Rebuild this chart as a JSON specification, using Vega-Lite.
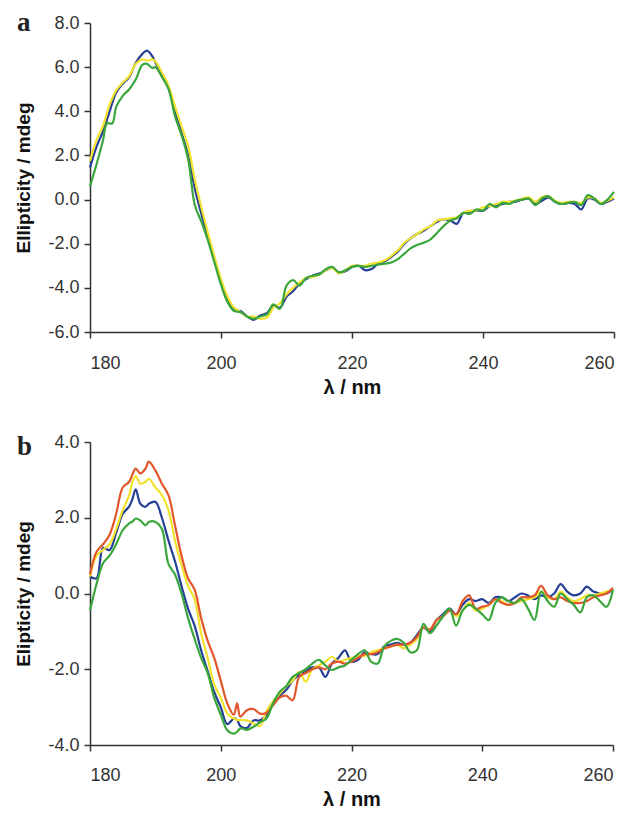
{
"$schema": "https://vega.github.io/schema/vega-lite/v6.json",
"background": "white",
"padding": {"left": 14, "top": 9, "right": 10, "bottom": 2},
"spacing": 36,
"config": {
  "locale": {"number": {"decimal": ".", "thousands": ",", "grouping": [3], "currency": ["$", ""], "minus": "-"}},
  "view": {"stroke": null},
  "font": "Liberation Sans",
  "axis": {"grid": false, "domainColor": "#333", "domainWidth": 1.5, "tickColor": "#333", "tickWidth": 1.5, "tickSize": 6,
           "labelFont": "Liberation Sans", "labelFontSize": 18, "labelColor": "#333", "titleFont": "Liberation Sans", "titleFontSize": 19, "titleFontWeight": "bold", "titleColor": "#111"}
},
"datasets": {
"a": [
{"nm":180,"s":"blue","v":1.45},{"nm":181,"s":"blue","v":2.4},{"nm":182,"s":"blue","v":3.1},{"nm":183,"s":"blue","v":4.0},{"nm":184,"s":"blue","v":4.85},{"nm":185,"s":"blue","v":5.25},{"nm":186,"s":"blue","v":5.55},{"nm":187,"s":"blue","v":6.2},{"nm":188,"s":"blue","v":6.6},{"nm":188.7,"s":"blue","v":6.75},{"nm":189.5,"s":"blue","v":6.5},{"nm":190,"s":"blue","v":6.2},{"nm":191,"s":"blue","v":5.7},{"nm":192,"s":"blue","v":5.05},{"nm":193,"s":"blue","v":3.95},{"nm":194,"s":"blue","v":3.0},{"nm":195,"s":"blue","v":2.0},{"nm":196,"s":"blue","v":0.5},{"nm":197,"s":"blue","v":-0.65},{"nm":198,"s":"blue","v":-1.7},{"nm":199,"s":"blue","v":-2.75},{"nm":200,"s":"blue","v":-3.7},{"nm":201,"s":"blue","v":-4.55},{"nm":202,"s":"blue","v":-5.0},{"nm":203,"s":"blue","v":-5.05},{"nm":204,"s":"blue","v":-5.3},{"nm":205,"s":"blue","v":-5.45},{"nm":206,"s":"blue","v":-5.25},{"nm":207,"s":"blue","v":-5.15},{"nm":208,"s":"blue","v":-4.8},{"nm":209,"s":"blue","v":-4.9},{"nm":210,"s":"blue","v":-4.4},{"nm":211,"s":"blue","v":-4.15},{"nm":212,"s":"blue","v":-3.8},{"nm":213,"s":"blue","v":-3.6},{"nm":214,"s":"blue","v":-3.45},{"nm":215,"s":"blue","v":-3.35},{"nm":216,"s":"blue","v":-3.2},{"nm":217,"s":"blue","v":-3.1},{"nm":218,"s":"blue","v":-3.3},{"nm":219,"s":"blue","v":-3.25},{"nm":220,"s":"blue","v":-3.05},{"nm":221,"s":"blue","v":-3.0},{"nm":222,"s":"blue","v":-3.2},{"nm":223,"s":"blue","v":-3.15},{"nm":224,"s":"blue","v":-2.9},{"nm":225,"s":"blue","v":-2.8},{"nm":226,"s":"blue","v":-2.6},{"nm":227,"s":"blue","v":-2.35},{"nm":228,"s":"blue","v":-2.0},{"nm":229,"s":"blue","v":-1.75},{"nm":230,"s":"blue","v":-1.55},{"nm":231,"s":"blue","v":-1.4},{"nm":232,"s":"blue","v":-1.2},{"nm":233,"s":"blue","v":-1.0},{"nm":234,"s":"blue","v":-0.9},{"nm":235,"s":"blue","v":-0.95},{"nm":236,"s":"blue","v":-1.1},{"nm":237,"s":"blue","v":-0.6},{"nm":238,"s":"blue","v":-0.55},{"nm":239,"s":"blue","v":-0.5},{"nm":240,"s":"blue","v":-0.5},{"nm":241,"s":"blue","v":-0.3},{"nm":242,"s":"blue","v":-0.25},{"nm":243,"s":"blue","v":-0.2},{"nm":244,"s":"blue","v":-0.1},{"nm":245,"s":"blue","v":-0.1},{"nm":246,"s":"blue","v":0.0},{"nm":247,"s":"blue","v":0.05},{"nm":248,"s":"blue","v":-0.2},{"nm":249,"s":"blue","v":-0.05},{"nm":250,"s":"blue","v":0.1},{"nm":251,"s":"blue","v":-0.1},{"nm":252,"s":"blue","v":-0.2},{"nm":253,"s":"blue","v":-0.15},{"nm":254,"s":"blue","v":-0.2},{"nm":255,"s":"blue","v":-0.45},{"nm":256,"s":"blue","v":0.05},{"nm":257,"s":"blue","v":0.0},{"nm":258,"s":"blue","v":-0.2},{"nm":259,"s":"blue","v":-0.1},{"nm":260,"s":"blue","v":0.05},
{"nm":180,"s":"yellow","v":1.75},{"nm":181,"s":"yellow","v":2.7},{"nm":182,"s":"yellow","v":3.35},{"nm":183,"s":"yellow","v":4.3},{"nm":184,"s":"yellow","v":4.95},{"nm":185,"s":"yellow","v":5.3},{"nm":186,"s":"yellow","v":5.6},{"nm":187,"s":"yellow","v":6.15},{"nm":188,"s":"yellow","v":6.35},{"nm":188.7,"s":"yellow","v":6.3},{"nm":189.5,"s":"yellow","v":6.35},{"nm":190,"s":"yellow","v":6.25},{"nm":191,"s":"yellow","v":5.75},{"nm":192,"s":"yellow","v":5.15},{"nm":193,"s":"yellow","v":4.2},{"nm":194,"s":"yellow","v":3.3},{"nm":195,"s":"yellow","v":2.4},{"nm":196,"s":"yellow","v":0.9},{"nm":197,"s":"yellow","v":-0.35},{"nm":198,"s":"yellow","v":-1.5},{"nm":199,"s":"yellow","v":-2.6},{"nm":200,"s":"yellow","v":-3.6},{"nm":201,"s":"yellow","v":-4.4},{"nm":202,"s":"yellow","v":-4.9},{"nm":203,"s":"yellow","v":-5.1},{"nm":204,"s":"yellow","v":-5.3},{"nm":205,"s":"yellow","v":-5.3},{"nm":206,"s":"yellow","v":-5.4},{"nm":207,"s":"yellow","v":-5.35},{"nm":208,"s":"yellow","v":-4.9},{"nm":209,"s":"yellow","v":-4.7},{"nm":210,"s":"yellow","v":-4.3},{"nm":211,"s":"yellow","v":-4.0},{"nm":212,"s":"yellow","v":-3.75},{"nm":213,"s":"yellow","v":-3.55},{"nm":214,"s":"yellow","v":-3.5},{"nm":215,"s":"yellow","v":-3.4},{"nm":216,"s":"yellow","v":-3.2},{"nm":217,"s":"yellow","v":-3.1},{"nm":218,"s":"yellow","v":-3.35},{"nm":219,"s":"yellow","v":-3.2},{"nm":220,"s":"yellow","v":-3.0},{"nm":221,"s":"yellow","v":-3.0},{"nm":222,"s":"yellow","v":-3.0},{"nm":223,"s":"yellow","v":-2.9},{"nm":224,"s":"yellow","v":-2.85},{"nm":225,"s":"yellow","v":-2.75},{"nm":226,"s":"yellow","v":-2.55},{"nm":227,"s":"yellow","v":-2.3},{"nm":228,"s":"yellow","v":-1.95},{"nm":229,"s":"yellow","v":-1.75},{"nm":230,"s":"yellow","v":-1.55},{"nm":231,"s":"yellow","v":-1.35},{"nm":232,"s":"yellow","v":-1.2},{"nm":233,"s":"yellow","v":-0.95},{"nm":234,"s":"yellow","v":-0.9},{"nm":235,"s":"yellow","v":-0.85},{"nm":236,"s":"yellow","v":-0.8},{"nm":237,"s":"yellow","v":-0.6},{"nm":238,"s":"yellow","v":-0.5},{"nm":239,"s":"yellow","v":-0.5},{"nm":240,"s":"yellow","v":-0.35},{"nm":241,"s":"yellow","v":-0.3},{"nm":242,"s":"yellow","v":-0.2},{"nm":243,"s":"yellow","v":-0.1},{"nm":244,"s":"yellow","v":-0.1},{"nm":245,"s":"yellow","v":-0.05},{"nm":246,"s":"yellow","v":0.05},{"nm":247,"s":"yellow","v":0.1},{"nm":248,"s":"yellow","v":-0.1},{"nm":249,"s":"yellow","v":0.1},{"nm":250,"s":"yellow","v":0.15},{"nm":251,"s":"yellow","v":-0.05},{"nm":252,"s":"yellow","v":-0.15},{"nm":253,"s":"yellow","v":-0.1},{"nm":254,"s":"yellow","v":-0.1},{"nm":255,"s":"yellow","v":-0.15},{"nm":256,"s":"yellow","v":0.1},{"nm":257,"s":"yellow","v":0.05},{"nm":258,"s":"yellow","v":-0.15},{"nm":259,"s":"yellow","v":-0.05},{"nm":260,"s":"yellow","v":0.1},
{"nm":180,"s":"green","v":0.6},{"nm":181,"s":"green","v":1.6},{"nm":182,"s":"green","v":2.7},{"nm":182.6,"s":"green","v":3.45},{"nm":183.4,"s":"green","v":3.45},{"nm":184,"s":"green","v":4.2},{"nm":185,"s":"green","v":4.7},{"nm":186,"s":"green","v":5.0},{"nm":187,"s":"green","v":5.45},{"nm":188,"s":"green","v":6.1},{"nm":188.7,"s":"green","v":6.15},{"nm":189.5,"s":"green","v":5.97},{"nm":190,"s":"green","v":6.0},{"nm":191,"s":"green","v":5.55},{"nm":192,"s":"green","v":5.0},{"nm":193,"s":"green","v":3.75},{"nm":194,"s":"green","v":2.9},{"nm":195,"s":"green","v":1.8},{"nm":196,"s":"green","v":-0.25},{"nm":197,"s":"green","v":-1.0},{"nm":198,"s":"green","v":-1.85},{"nm":199,"s":"green","v":-2.85},{"nm":200,"s":"green","v":-3.85},{"nm":201,"s":"green","v":-4.65},{"nm":202,"s":"green","v":-5.05},{"nm":203,"s":"green","v":-5.1},{"nm":204,"s":"green","v":-5.3},{"nm":205,"s":"green","v":-5.4},{"nm":206,"s":"green","v":-5.3},{"nm":207,"s":"green","v":-5.2},{"nm":208,"s":"green","v":-4.75},{"nm":209,"s":"green","v":-4.95},{"nm":210,"s":"green","v":-3.9},{"nm":211,"s":"green","v":-3.65},{"nm":212,"s":"green","v":-3.9},{"nm":213,"s":"green","v":-3.55},{"nm":214,"s":"green","v":-3.45},{"nm":215,"s":"green","v":-3.4},{"nm":216,"s":"green","v":-3.15},{"nm":217,"s":"green","v":-3.05},{"nm":218,"s":"green","v":-3.3},{"nm":219,"s":"green","v":-3.2},{"nm":220,"s":"green","v":-3.05},{"nm":221,"s":"green","v":-3.0},{"nm":222,"s":"green","v":-3.05},{"nm":223,"s":"green","v":-3.0},{"nm":224,"s":"green","v":-2.95},{"nm":225,"s":"green","v":-2.9},{"nm":226,"s":"green","v":-2.85},{"nm":227,"s":"green","v":-2.7},{"nm":228,"s":"green","v":-2.45},{"nm":229,"s":"green","v":-2.2},{"nm":230,"s":"green","v":-2.05},{"nm":231,"s":"green","v":-1.95},{"nm":232,"s":"green","v":-1.8},{"nm":233,"s":"green","v":-1.5},{"nm":234,"s":"green","v":-1.2},{"nm":235,"s":"green","v":-0.95},{"nm":236,"s":"green","v":-0.85},{"nm":237,"s":"green","v":-0.6},{"nm":238,"s":"green","v":-0.65},{"nm":239,"s":"green","v":-0.45},{"nm":240,"s":"green","v":-0.5},{"nm":241,"s":"green","v":-0.2},{"nm":242,"s":"green","v":-0.35},{"nm":243,"s":"green","v":-0.15},{"nm":244,"s":"green","v":-0.2},{"nm":245,"s":"green","v":-0.05},{"nm":246,"s":"green","v":0.0},{"nm":247,"s":"green","v":0.05},{"nm":248,"s":"green","v":-0.25},{"nm":249,"s":"green","v":0.05},{"nm":250,"s":"green","v":0.15},{"nm":251,"s":"green","v":-0.1},{"nm":252,"s":"green","v":-0.2},{"nm":253,"s":"green","v":-0.15},{"nm":254,"s":"green","v":-0.1},{"nm":255,"s":"green","v":-0.25},{"nm":256,"s":"green","v":0.2},{"nm":257,"s":"green","v":0.05},{"nm":258,"s":"green","v":-0.2},{"nm":259,"s":"green","v":0.0},{"nm":260,"s":"green","v":0.35}
],
"b": [
{"nm":180,"s":"blue","v":0.45},{"nm":181,"s":"blue","v":0.4},{"nm":182,"s":"blue","v":1.2},{"nm":183,"s":"blue","v":1.15},{"nm":184,"s":"blue","v":1.6},{"nm":185,"s":"blue","v":2.1},{"nm":186,"s":"blue","v":2.3},{"nm":186.5,"s":"blue","v":2.5},{"nm":187,"s":"blue","v":2.75},{"nm":187.7,"s":"blue","v":2.37},{"nm":188.5,"s":"blue","v":2.29},{"nm":189,"s":"blue","v":2.37},{"nm":190,"s":"blue","v":2.42},{"nm":191,"s":"blue","v":2.0},{"nm":192,"s":"blue","v":1.4},{"nm":193,"s":"blue","v":0.85},{"nm":194,"s":"blue","v":0.2},{"nm":195,"s":"blue","v":-0.4},{"nm":196,"s":"blue","v":-0.85},{"nm":197,"s":"blue","v":-1.5},{"nm":198,"s":"blue","v":-2.05},{"nm":199,"s":"blue","v":-2.6},{"nm":200,"s":"blue","v":-3.0},{"nm":201,"s":"blue","v":-3.45},{"nm":202,"s":"blue","v":-3.3},{"nm":202.5,"s":"blue","v":-3.34},{"nm":203,"s":"blue","v":-3.5},{"nm":204,"s":"blue","v":-3.55},{"nm":205,"s":"blue","v":-3.35},{"nm":206,"s":"blue","v":-3.35},{"nm":207,"s":"blue","v":-3.2},{"nm":208,"s":"blue","v":-2.9},{"nm":209,"s":"blue","v":-2.7},{"nm":210,"s":"blue","v":-2.55},{"nm":211,"s":"blue","v":-2.3},{"nm":212,"s":"blue","v":-2.15},{"nm":213,"s":"blue","v":-2.05},{"nm":214,"s":"blue","v":-1.95},{"nm":215,"s":"blue","v":-1.95},{"nm":216,"s":"blue","v":-2.2},{"nm":217,"s":"blue","v":-1.85},{"nm":218,"s":"blue","v":-1.7},{"nm":219,"s":"blue","v":-1.5},{"nm":220,"s":"blue","v":-1.8},{"nm":221,"s":"blue","v":-1.75},{"nm":222,"s":"blue","v":-1.55},{"nm":223,"s":"blue","v":-1.6},{"nm":224,"s":"blue","v":-1.6},{"nm":225,"s":"blue","v":-1.4},{"nm":226,"s":"blue","v":-1.35},{"nm":227,"s":"blue","v":-1.3},{"nm":228,"s":"blue","v":-1.35},{"nm":229,"s":"blue","v":-1.3},{"nm":230,"s":"blue","v":-1.1},{"nm":231,"s":"blue","v":-0.9},{"nm":232,"s":"blue","v":-1.0},{"nm":233,"s":"blue","v":-0.7},{"nm":234,"s":"blue","v":-0.55},{"nm":235,"s":"blue","v":-0.4},{"nm":236,"s":"blue","v":-0.55},{"nm":237,"s":"blue","v":-0.3},{"nm":238,"s":"blue","v":-0.15},{"nm":239,"s":"blue","v":-0.2},{"nm":240,"s":"blue","v":-0.15},{"nm":241,"s":"blue","v":-0.25},{"nm":242,"s":"blue","v":-0.1},{"nm":243,"s":"blue","v":-0.1},{"nm":244,"s":"blue","v":-0.2},{"nm":245,"s":"blue","v":-0.1},{"nm":246,"s":"blue","v":0.0},{"nm":247,"s":"blue","v":-0.05},{"nm":248,"s":"blue","v":-0.15},{"nm":249,"s":"blue","v":-0.05},{"nm":250,"s":"blue","v":-0.1},{"nm":251,"s":"blue","v":0.0},{"nm":252,"s":"blue","v":0.25},{"nm":253,"s":"blue","v":0.05},{"nm":254,"s":"blue","v":-0.05},{"nm":255,"s":"blue","v":0.0},{"nm":256,"s":"blue","v":0.18},{"nm":257,"s":"blue","v":0.05},{"nm":258,"s":"blue","v":0.0},{"nm":259,"s":"blue","v":0.0},{"nm":260,"s":"blue","v":0.1},
{"nm":180,"s":"yellow","v":0.45},{"nm":181,"s":"yellow","v":1.0},{"nm":182,"s":"yellow","v":1.15},{"nm":183,"s":"yellow","v":1.3},{"nm":184,"s":"yellow","v":1.7},{"nm":185,"s":"yellow","v":2.2},{"nm":186,"s":"yellow","v":2.6},{"nm":186.5,"s":"yellow","v":2.95},{"nm":187,"s":"yellow","v":3.1},{"nm":187.7,"s":"yellow","v":2.9},{"nm":188.5,"s":"yellow","v":2.95},{"nm":189,"s":"yellow","v":3.03},{"nm":190,"s":"yellow","v":2.8},{"nm":191,"s":"yellow","v":2.6},{"nm":192,"s":"yellow","v":2.2},{"nm":193,"s":"yellow","v":1.4},{"nm":194,"s":"yellow","v":0.75},{"nm":195,"s":"yellow","v":0.2},{"nm":196,"s":"yellow","v":-0.15},{"nm":197,"s":"yellow","v":-1.05},{"nm":198,"s":"yellow","v":-1.7},{"nm":199,"s":"yellow","v":-2.4},{"nm":200,"s":"yellow","v":-2.75},{"nm":201,"s":"yellow","v":-3.17},{"nm":202,"s":"yellow","v":-3.3},{"nm":202.5,"s":"yellow","v":-3.34},{"nm":203,"s":"yellow","v":-3.34},{"nm":204,"s":"yellow","v":-3.35},{"nm":205,"s":"yellow","v":-3.43},{"nm":206,"s":"yellow","v":-3.5},{"nm":207,"s":"yellow","v":-3.1},{"nm":208,"s":"yellow","v":-2.85},{"nm":209,"s":"yellow","v":-2.65},{"nm":210,"s":"yellow","v":-2.45},{"nm":211,"s":"yellow","v":-2.3},{"nm":212,"s":"yellow","v":-2.07},{"nm":213,"s":"yellow","v":-2.33},{"nm":214,"s":"yellow","v":-2.0},{"nm":215,"s":"yellow","v":-1.9},{"nm":216,"s":"yellow","v":-1.8},{"nm":217,"s":"yellow","v":-1.67},{"nm":218,"s":"yellow","v":-1.8},{"nm":219,"s":"yellow","v":-1.75},{"nm":220,"s":"yellow","v":-1.7},{"nm":221,"s":"yellow","v":-1.65},{"nm":222,"s":"yellow","v":-1.65},{"nm":223,"s":"yellow","v":-1.55},{"nm":224,"s":"yellow","v":-1.5},{"nm":225,"s":"yellow","v":-1.45},{"nm":226,"s":"yellow","v":-1.4},{"nm":227,"s":"yellow","v":-1.35},{"nm":228,"s":"yellow","v":-1.45},{"nm":229,"s":"yellow","v":-1.35},{"nm":230,"s":"yellow","v":-1.2},{"nm":231,"s":"yellow","v":-0.9},{"nm":232,"s":"yellow","v":-0.95},{"nm":233,"s":"yellow","v":-0.7},{"nm":234,"s":"yellow","v":-0.6},{"nm":235,"s":"yellow","v":-0.45},{"nm":236,"s":"yellow","v":-0.6},{"nm":237,"s":"yellow","v":-0.45},{"nm":238,"s":"yellow","v":-0.25},{"nm":239,"s":"yellow","v":-0.45},{"nm":240,"s":"yellow","v":-0.4},{"nm":241,"s":"yellow","v":-0.3},{"nm":242,"s":"yellow","v":-0.15},{"nm":243,"s":"yellow","v":-0.2},{"nm":244,"s":"yellow","v":-0.3},{"nm":245,"s":"yellow","v":-0.25},{"nm":246,"s":"yellow","v":-0.2},{"nm":247,"s":"yellow","v":-0.15},{"nm":248,"s":"yellow","v":-0.1},{"nm":249,"s":"yellow","v":0.05},{"nm":250,"s":"yellow","v":-0.1},{"nm":251,"s":"yellow","v":-0.15},{"nm":252,"s":"yellow","v":0.05},{"nm":253,"s":"yellow","v":-0.1},{"nm":254,"s":"yellow","v":-0.2},{"nm":255,"s":"yellow","v":-0.15},{"nm":256,"s":"yellow","v":-0.05},{"nm":257,"s":"yellow","v":-0.05},{"nm":258,"s":"yellow","v":0.0},{"nm":259,"s":"yellow","v":0.05},{"nm":260,"s":"yellow","v":0.1},
{"nm":180,"s":"orange","v":0.5},{"nm":181,"s":"orange","v":1.1},{"nm":182,"s":"orange","v":1.3},{"nm":183,"s":"orange","v":1.55},{"nm":184,"s":"orange","v":2.1},{"nm":185,"s":"orange","v":2.8},{"nm":186,"s":"orange","v":2.95},{"nm":186.5,"s":"orange","v":3.15},{"nm":187,"s":"orange","v":3.3},{"nm":187.7,"s":"orange","v":3.17},{"nm":188.5,"s":"orange","v":3.3},{"nm":189,"s":"orange","v":3.48},{"nm":190,"s":"orange","v":3.25},{"nm":191,"s":"orange","v":2.9},{"nm":192,"s":"orange","v":2.6},{"nm":193,"s":"orange","v":1.8},{"nm":194,"s":"orange","v":1.0},{"nm":195,"s":"orange","v":0.4},{"nm":196,"s":"orange","v":0.1},{"nm":197,"s":"orange","v":-0.65},{"nm":198,"s":"orange","v":-1.25},{"nm":199,"s":"orange","v":-1.7},{"nm":200,"s":"orange","v":-2.3},{"nm":201,"s":"orange","v":-2.9},{"nm":202,"s":"orange","v":-3.2},{"nm":202.5,"s":"orange","v":-2.9},{"nm":203,"s":"orange","v":-3.25},{"nm":204,"s":"orange","v":-3.08},{"nm":205,"s":"orange","v":-3.05},{"nm":206,"s":"orange","v":-3.17},{"nm":207,"s":"orange","v":-3.15},{"nm":208,"s":"orange","v":-2.95},{"nm":209,"s":"orange","v":-2.75},{"nm":210,"s":"orange","v":-2.7},{"nm":211,"s":"orange","v":-2.82},{"nm":212,"s":"orange","v":-2.2},{"nm":213,"s":"orange","v":-2.1},{"nm":214,"s":"orange","v":-2.0},{"nm":215,"s":"orange","v":-1.95},{"nm":216,"s":"orange","v":-2.0},{"nm":217,"s":"orange","v":-1.85},{"nm":218,"s":"orange","v":-1.8},{"nm":219,"s":"orange","v":-1.85},{"nm":220,"s":"orange","v":-1.8},{"nm":221,"s":"orange","v":-1.7},{"nm":222,"s":"orange","v":-1.6},{"nm":223,"s":"orange","v":-1.6},{"nm":224,"s":"orange","v":-1.55},{"nm":225,"s":"orange","v":-1.45},{"nm":226,"s":"orange","v":-1.4},{"nm":227,"s":"orange","v":-1.35},{"nm":228,"s":"orange","v":-1.35},{"nm":229,"s":"orange","v":-1.3},{"nm":230,"s":"orange","v":-1.15},{"nm":231,"s":"orange","v":-0.9},{"nm":232,"s":"orange","v":-0.95},{"nm":233,"s":"orange","v":-0.7},{"nm":234,"s":"orange","v":-0.6},{"nm":235,"s":"orange","v":-0.45},{"nm":236,"s":"orange","v":-0.55},{"nm":237,"s":"orange","v":-0.2},{"nm":238,"s":"orange","v":-0.05},{"nm":239,"s":"orange","v":-0.4},{"nm":240,"s":"orange","v":-0.35},{"nm":241,"s":"orange","v":-0.3},{"nm":242,"s":"orange","v":-0.15},{"nm":243,"s":"orange","v":-0.25},{"nm":244,"s":"orange","v":-0.3},{"nm":245,"s":"orange","v":-0.25},{"nm":246,"s":"orange","v":-0.1},{"nm":247,"s":"orange","v":-0.1},{"nm":248,"s":"orange","v":-0.05},{"nm":249,"s":"orange","v":0.2},{"nm":250,"s":"orange","v":-0.05},{"nm":251,"s":"orange","v":-0.15},{"nm":252,"s":"orange","v":-0.1},{"nm":253,"s":"orange","v":-0.2},{"nm":254,"s":"orange","v":-0.25},{"nm":255,"s":"orange","v":-0.25},{"nm":256,"s":"orange","v":-0.2},{"nm":257,"s":"orange","v":-0.1},{"nm":258,"s":"orange","v":-0.05},{"nm":259,"s":"orange","v":0.0},{"nm":260,"s":"orange","v":0.15},
{"nm":180,"s":"green","v":-0.45},{"nm":181,"s":"green","v":0.25},{"nm":182,"s":"green","v":0.8},{"nm":183,"s":"green","v":1.0},{"nm":184,"s":"green","v":1.3},{"nm":185,"s":"green","v":1.67},{"nm":186,"s":"green","v":1.85},{"nm":186.5,"s":"green","v":1.9},{"nm":187,"s":"green","v":1.98},{"nm":187.7,"s":"green","v":1.93},{"nm":188.5,"s":"green","v":1.8},{"nm":189,"s":"green","v":1.89},{"nm":190,"s":"green","v":1.89},{"nm":191,"s":"green","v":1.7},{"nm":192,"s":"green","v":0.78},{"nm":193,"s":"green","v":0.5},{"nm":194,"s":"green","v":0.0},{"nm":195,"s":"green","v":-0.65},{"nm":196,"s":"green","v":-1.2},{"nm":197,"s":"green","v":-1.7},{"nm":198,"s":"green","v":-2.1},{"nm":199,"s":"green","v":-2.75},{"nm":200,"s":"green","v":-3.2},{"nm":201,"s":"green","v":-3.61},{"nm":202,"s":"green","v":-3.7},{"nm":202.5,"s":"green","v":-3.65},{"nm":203,"s":"green","v":-3.56},{"nm":204,"s":"green","v":-3.6},{"nm":205,"s":"green","v":-3.52},{"nm":206,"s":"green","v":-3.4},{"nm":207,"s":"green","v":-3.3},{"nm":208,"s":"green","v":-2.9},{"nm":209,"s":"green","v":-2.6},{"nm":210,"s":"green","v":-2.45},{"nm":211,"s":"green","v":-2.2},{"nm":212,"s":"green","v":-2.1},{"nm":213,"s":"green","v":-2.0},{"nm":214,"s":"green","v":-1.85},{"nm":215,"s":"green","v":-1.75},{"nm":216,"s":"green","v":-1.9},{"nm":217,"s":"green","v":-2.02},{"nm":218,"s":"green","v":-1.95},{"nm":219,"s":"green","v":-1.9},{"nm":220,"s":"green","v":-1.75},{"nm":221,"s":"green","v":-1.6},{"nm":222,"s":"green","v":-1.5},{"nm":223,"s":"green","v":-1.8},{"nm":224,"s":"green","v":-1.85},{"nm":225,"s":"green","v":-1.4},{"nm":226,"s":"green","v":-1.25},{"nm":227,"s":"green","v":-1.2},{"nm":228,"s":"green","v":-1.3},{"nm":229,"s":"green","v":-1.55},{"nm":230,"s":"green","v":-1.5},{"nm":231,"s":"green","v":-0.8},{"nm":232,"s":"green","v":-1.05},{"nm":233,"s":"green","v":-0.85},{"nm":234,"s":"green","v":-0.6},{"nm":235,"s":"green","v":-0.4},{"nm":236,"s":"green","v":-0.85},{"nm":237,"s":"green","v":-0.45},{"nm":238,"s":"green","v":-0.3},{"nm":239,"s":"green","v":-0.4},{"nm":240,"s":"green","v":-0.55},{"nm":241,"s":"green","v":-0.7},{"nm":242,"s":"green","v":-0.25},{"nm":243,"s":"green","v":-0.1},{"nm":244,"s":"green","v":-0.2},{"nm":245,"s":"green","v":-0.25},{"nm":246,"s":"green","v":-0.15},{"nm":247,"s":"green","v":-0.4},{"nm":248,"s":"green","v":-0.7},{"nm":249,"s":"green","v":0.05},{"nm":250,"s":"green","v":-0.2},{"nm":251,"s":"green","v":-0.35},{"nm":252,"s":"green","v":0.0},{"nm":253,"s":"green","v":-0.15},{"nm":254,"s":"green","v":-0.3},{"nm":255,"s":"green","v":-0.5},{"nm":256,"s":"green","v":-0.1},{"nm":257,"s":"green","v":-0.05},{"nm":258,"s":"green","v":-0.2},{"nm":259,"s":"green","v":-0.35},{"nm":260,"s":"green","v":0.1}
]
},
"vconcat": [
{
  "width": 524, "height": 309,
  "layer": [
    {"mark": {"type": "rule", "strokeDash": [3, 2], "strokeWidth": 1.5, "color": "#111"}, "encoding": {"y": {"datum": 0, "type": "quantitative", "scale": {"domain": [-6, 8]}}}},
    {"data": {"name": "a"},
     "mark": {"type": "line", "strokeWidth": 2.2, "interpolate": "catmull-rom"},
     "encoding": {
       "x": {"field": "nm", "type": "quantitative", "scale": {"domain": [180, 260], "nice": false, "zero": false},
             "axis": {"title": "λ / nm", "values": [180, 200, 220, 240, 260], "labelPadding": 16, "titlePadding": 5, "titleFontSize": 20}},
       "y": {"field": "v", "type": "quantitative", "scale": {"domain": [-6, 8], "nice": false, "zero": false},
             "axis": {"title": "Ellipticity / mdeg", "values": [-6, -4, -2, 0, 2, 4, 6, 8], "format": ".1f", "labelPadding": 5, "titlePadding": 14}},
       "color": {"field": "s", "type": "nominal", "scale": {"domain": ["blue", "yellow", "orange", "green"], "range": ["#243f94", "#f2e22e", "#e2562c", "#3aa63c"]}, "legend": null}
     }},
    {"data": {"values": [{"panel": "a"}]},
     "mark": {"type": "text", "font": "Liberation Serif", "fontSize": 27, "fontWeight": "bold", "color": "#222", "align": "left", "baseline": "alphabetic", "clip": false},
     "encoding": {"x": {"datum": 168.85, "type": "quantitative"}, "y": {"datum": 7.62, "type": "quantitative"}, "text": {"field": "panel", "type": "nominal"}}}
  ]
},
{
  "width": 523, "height": 303,
  "layer": [
    {"mark": {"type": "rule", "strokeDash": [3, 2], "strokeWidth": 1.5, "color": "#111"}, "encoding": {"y": {"datum": 0, "type": "quantitative", "scale": {"domain": [-4, 4]}}}},
    {"data": {"name": "b"},
     "mark": {"type": "line", "strokeWidth": 2.2, "interpolate": "catmull-rom"},
     "encoding": {
       "x": {"field": "nm", "type": "quantitative", "scale": {"domain": [180, 260], "nice": false, "zero": false},
             "axis": {"title": "λ / nm", "values": [180, 200, 220, 240, 260], "labelPadding": 15, "titlePadding": 5, "titleFontSize": 20}},
       "y": {"field": "v", "type": "quantitative", "scale": {"domain": [-4, 4], "nice": false, "zero": false},
             "axis": {"title": "Elipticity / mdeg", "values": [-4, -2, 0, 2, 4], "format": ".1f", "labelPadding": 5, "titlePadding": 14}},
       "color": {"field": "s", "type": "nominal", "scale": {"domain": ["blue", "yellow", "orange", "green"], "range": ["#243f94", "#f2e22e", "#e2562c", "#3aa63c"]}, "legend": null}
     }},
    {"data": {"values": [{"panel": "b"}]},
     "mark": {"type": "text", "font": "Liberation Serif", "fontSize": 27, "fontWeight": "bold", "color": "#222", "align": "left", "baseline": "alphabetic", "clip": false},
     "encoding": {"x": {"datum": 168.85, "type": "quantitative"}, "y": {"datum": 3.65, "type": "quantitative"}, "text": {"field": "panel", "type": "nominal"}}}
  ]
}
]
}
